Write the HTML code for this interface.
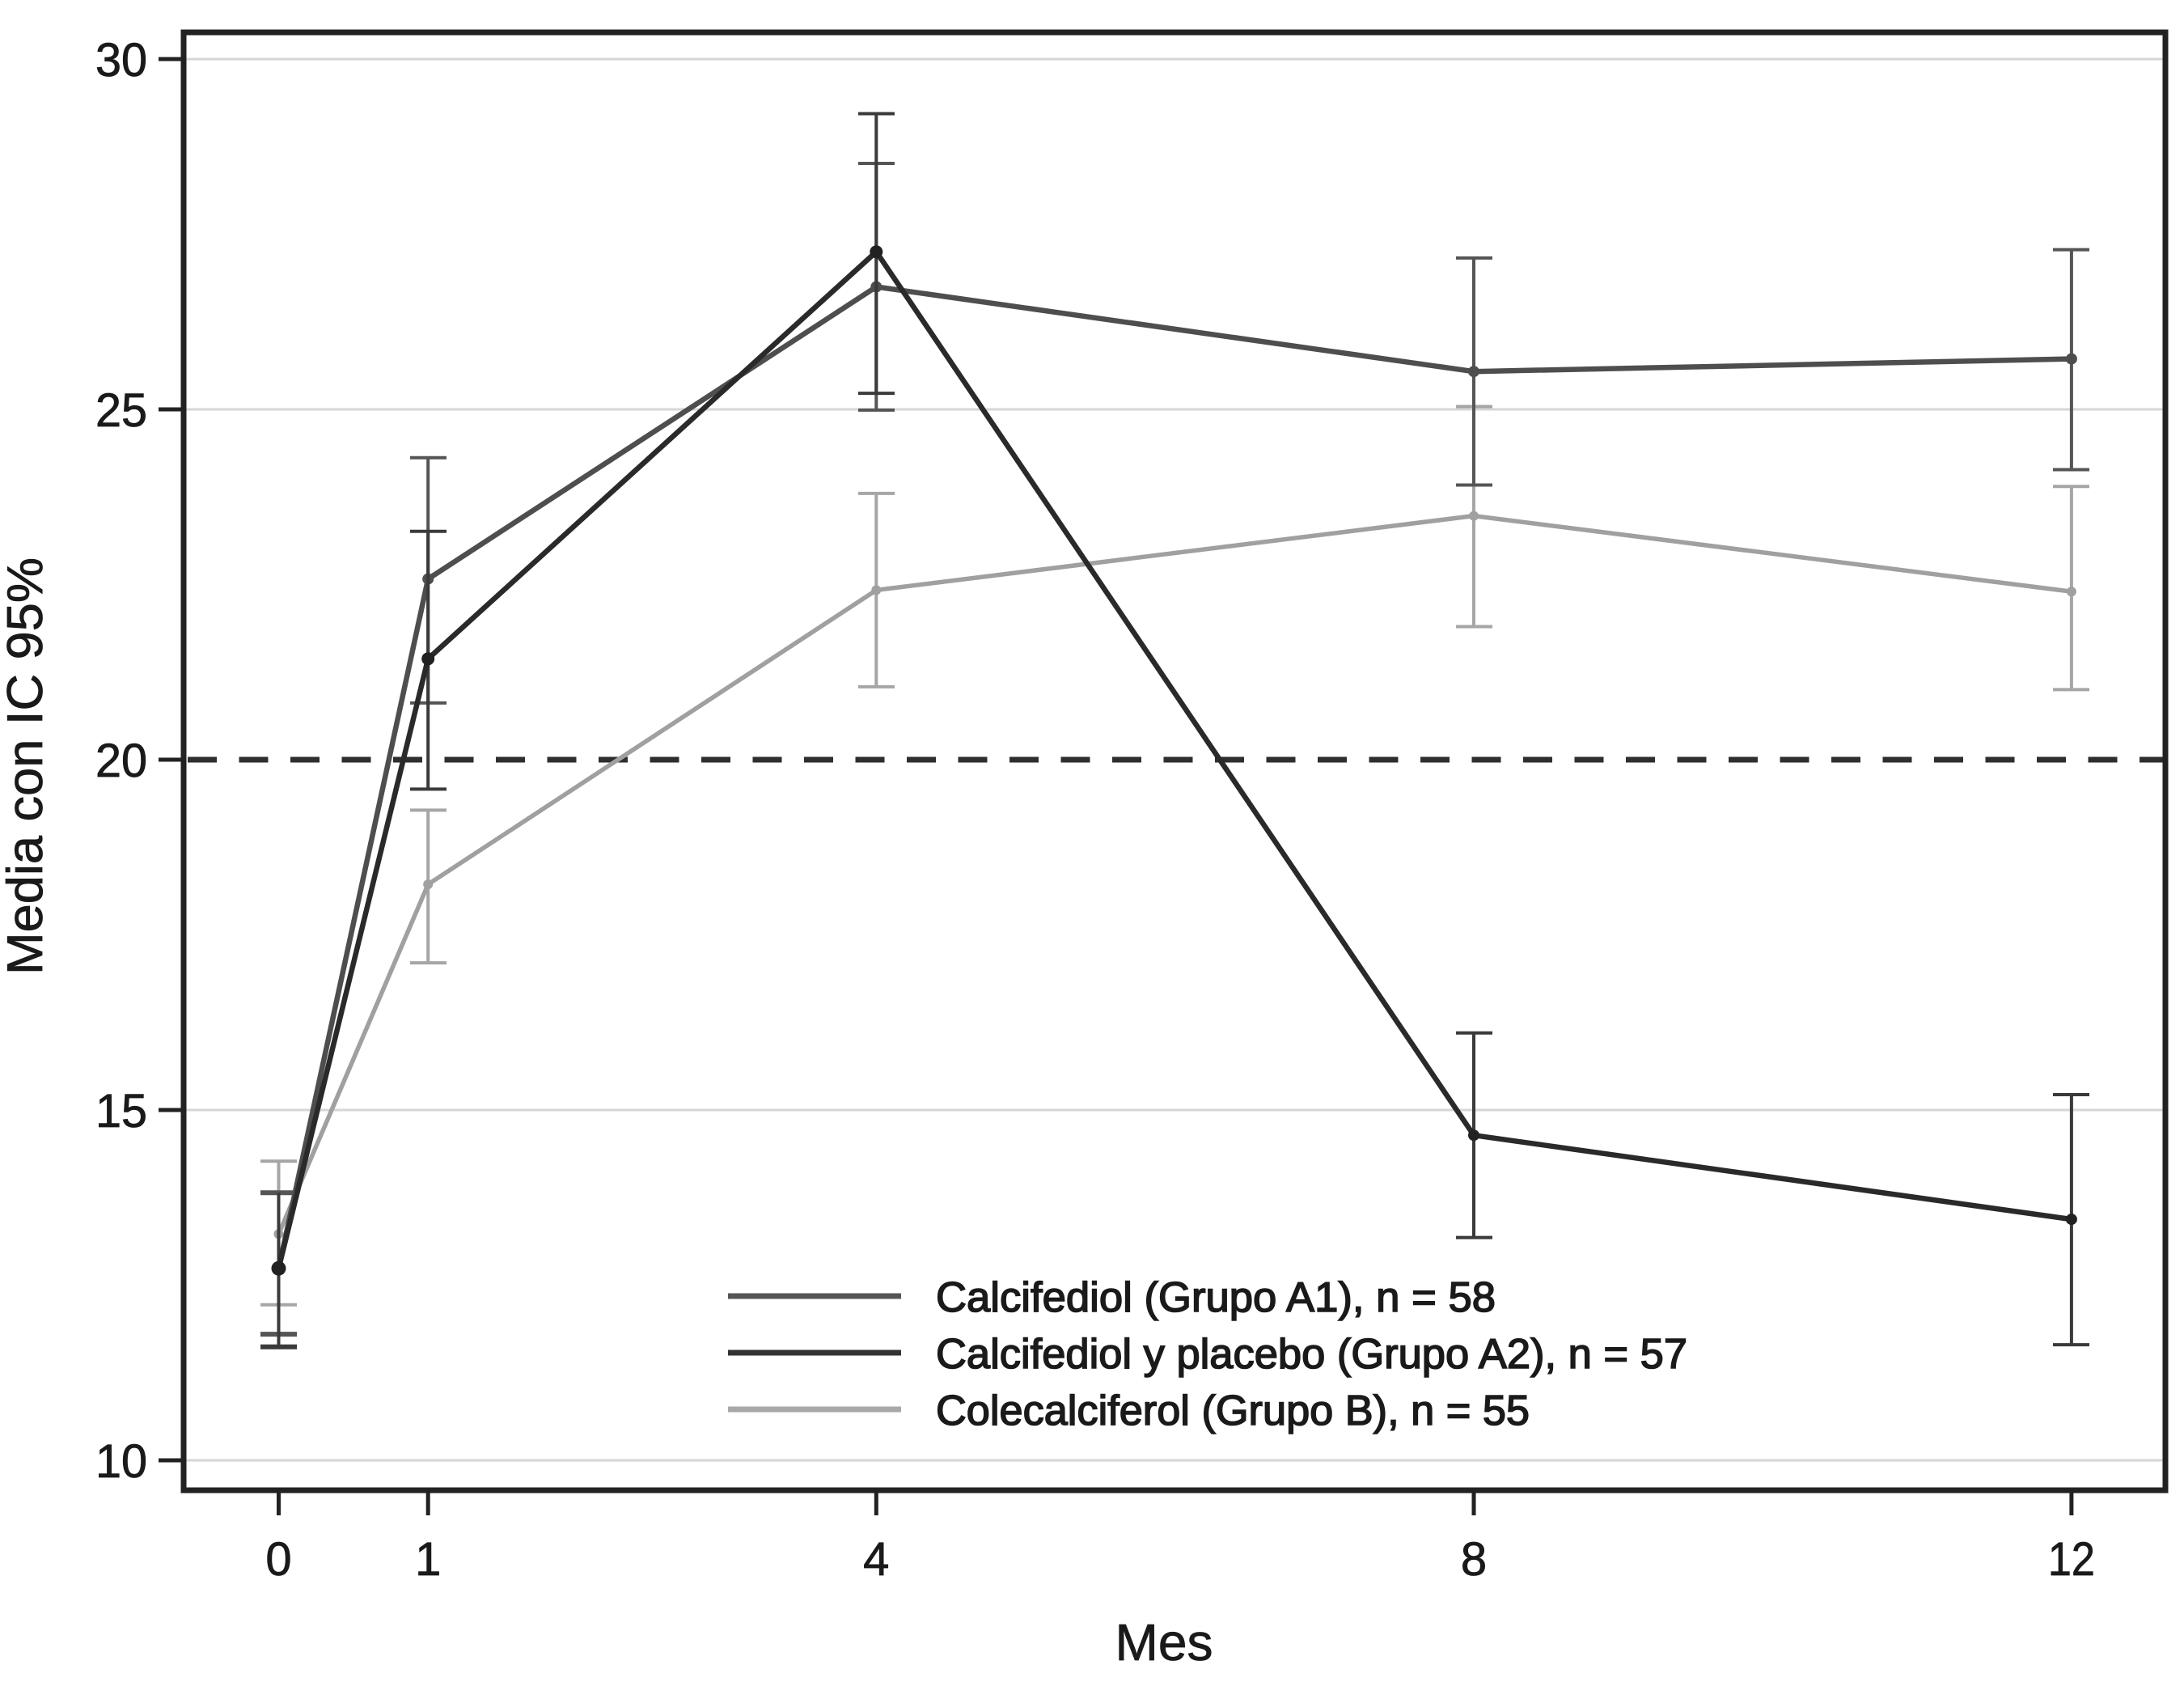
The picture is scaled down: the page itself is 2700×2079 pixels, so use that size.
<!DOCTYPE html>
<html>
<head>
<meta charset="utf-8">
<style>
  html, body { margin:0; padding:0; background:#fff; }
  body { width:2700px; height:2079px; overflow:hidden; }
  svg { display:block; }
  text { font-family: "Liberation Sans", "DejaVu Sans", sans-serif; fill:#1a1a1a; }
</style>
</head>
<body>
<svg width="2700" height="2079" viewBox="0 0 2700 2079" xmlns="http://www.w3.org/2000/svg">
  <rect x="0" y="0" width="2700" height="2079" fill="#ffffff"/>

  <!-- gridlines -->
  <g stroke="#d6d6d6" stroke-width="3">
    <line x1="227" y1="73" x2="2677" y2="73"/>
    <line x1="227" y1="506" x2="2677" y2="506"/>
    <line x1="227" y1="1372" x2="2677" y2="1372"/>
    <line x1="227" y1="1805" x2="2677" y2="1805"/>
  </g>

  <!-- reference dashed line at 20 -->
  <line x1="232" y1="939" x2="2677" y2="939" stroke="#2e2e2e" stroke-width="7" stroke-dasharray="36 27.5"/>

  <!-- Group B (light gray) -->
  <g stroke="#a6a6a6" stroke-width="4" fill="none">
    <line x1="344.5" y1="1435.2" x2="344.5" y2="1612.7"/>
    <line x1="322" y1="1435.2" x2="367" y2="1435.2"/>
    <line x1="322" y1="1612.7" x2="367" y2="1612.7"/>
    <line x1="529.2" y1="1001.4" x2="529.2" y2="1190.1"/>
    <line x1="507" y1="1001.4" x2="552" y2="1001.4"/>
    <line x1="507" y1="1190.1" x2="552" y2="1190.1"/>
    <line x1="1083.3" y1="609.9" x2="1083.3" y2="848.9"/>
    <line x1="1061" y1="609.9" x2="1106" y2="609.9"/>
    <line x1="1061" y1="848.9" x2="1106" y2="848.9"/>
    <line x1="1822" y1="502.5" x2="1822" y2="774.5"/>
    <line x1="1800" y1="502.5" x2="1845" y2="502.5"/>
    <line x1="1800" y1="774.5" x2="1845" y2="774.5"/>
    <line x1="2560.9" y1="601.3" x2="2560.9" y2="852.4"/>
    <line x1="2538" y1="601.3" x2="2583" y2="601.3"/>
    <line x1="2538" y1="852.4" x2="2583" y2="852.4"/>
  </g>
  <polyline points="344.5,1525.3 529.2,1093.1 1083.3,729.4 1822,637.6 2560.9,731.2" fill="none" stroke="#a0a0a0" stroke-width="5.5" stroke-linejoin="round"/>
  <g fill="#a0a0a0">
    <circle cx="344.5" cy="1525.3" r="6"/><circle cx="529.2" cy="1093.1" r="6"/><circle cx="1083.3" cy="729.4" r="6"/><circle cx="1822" cy="637.6" r="6"/><circle cx="2560.9" cy="731.2" r="6"/>
  </g>

  <!-- Group A1 (medium dark gray) -->
  <g stroke="#555555" stroke-width="4" fill="none">
    <line x1="344.5" y1="1474.2" x2="344.5" y2="1649.1"/>
    <line x1="322" y1="1474.2" x2="367" y2="1474.2" stroke-width="6"/>
    <line x1="322" y1="1649.1" x2="367" y2="1649.1" stroke-width="6"/>
    <line x1="529.2" y1="565.8" x2="529.2" y2="868.9"/>
    <line x1="507" y1="565.8" x2="552" y2="565.8"/>
    <line x1="507" y1="868.9" x2="552" y2="868.9"/>
    <line x1="1083.3" y1="202" x2="1083.3" y2="506.9"/>
    <line x1="1061" y1="202" x2="1106" y2="202"/>
    <line x1="1061" y1="506.9" x2="1106" y2="506.9"/>
    <line x1="1822" y1="318.9" x2="1822" y2="599.5"/>
    <line x1="1800" y1="318.9" x2="1845" y2="318.9"/>
    <line x1="1800" y1="599.5" x2="1845" y2="599.5"/>
    <line x1="2560.9" y1="308.6" x2="2560.9" y2="580.5"/>
    <line x1="2538" y1="308.6" x2="2583" y2="308.6"/>
    <line x1="2538" y1="580.5" x2="2583" y2="580.5"/>
  </g>
  <polyline points="344.5,1567.7 529.2,715.6 1083.3,354.5 1822,459.2 2560.9,443.6" fill="none" stroke="#4e4e4e" stroke-width="6.5" stroke-linejoin="round"/>
  <g fill="#4e4e4e">
    <circle cx="529.2" cy="715.6" r="7"/><circle cx="1083.3" cy="354.5" r="7"/><circle cx="1822" cy="459.2" r="7"/><circle cx="2560.9" cy="443.6" r="7"/>
  </g>

  <!-- Group A2 (darkest) -->
  <g stroke="#3a3a3a" stroke-width="4" fill="none">
    <line x1="344.5" y1="1474.2" x2="344.5" y2="1664.7"/>
    <line x1="322" y1="1664.7" x2="367" y2="1664.7" stroke-width="6"/>
    <line x1="529.2" y1="656.7" x2="529.2" y2="975.4"/>
    <line x1="507" y1="656.7" x2="552" y2="656.7"/>
    <line x1="507" y1="975.4" x2="552" y2="975.4"/>
    <line x1="1083.3" y1="140.5" x2="1083.3" y2="486.1"/>
    <line x1="1061" y1="140.5" x2="1106" y2="140.5"/>
    <line x1="1061" y1="486.1" x2="1106" y2="486.1"/>
    <line x1="1822" y1="1276.7" x2="1822" y2="1529.6"/>
    <line x1="1800" y1="1276.7" x2="1845" y2="1276.7"/>
    <line x1="1800" y1="1529.6" x2="1845" y2="1529.6"/>
    <line x1="2560.9" y1="1353" x2="2560.9" y2="1662.1"/>
    <line x1="2538" y1="1353" x2="2583" y2="1353"/>
    <line x1="2538" y1="1662.1" x2="2583" y2="1662.1"/>
  </g>
  <polyline points="344.5,1567.7 529.2,814.3 1083.3,311.2 1822,1403.2 2560.9,1507.1" fill="none" stroke="#2a2a2a" stroke-width="6.5" stroke-linejoin="round"/>
  <g fill="#222">
    <circle cx="344.5" cy="1567.7" r="9"/><circle cx="529.2" cy="814.3" r="8"/><circle cx="1083.3" cy="311.2" r="8"/><circle cx="1822" cy="1403.2" r="7"/><circle cx="2560.9" cy="1507.1" r="7"/>
  </g>

  <!-- Legend -->
  <line x1="900" y1="1602" x2="1114" y2="1602" stroke="#555555" stroke-width="7"/>
  <line x1="900" y1="1672" x2="1114" y2="1672" stroke="#333333" stroke-width="7"/>
  <line x1="900" y1="1742" x2="1114" y2="1742" stroke="#a8a8a8" stroke-width="7"/>
  <g stroke="#1a1a1a" stroke-width="1.6">
    <text x="1157" y="1621" font-size="52" textLength="692" lengthAdjust="spacingAndGlyphs">Calcifediol (Grupo A1), n = 58</text>
    <text x="1157" y="1691" font-size="52" textLength="929" lengthAdjust="spacingAndGlyphs">Calcifediol y placebo (Grupo A2), n = 57</text>
    <text x="1157" y="1761" font-size="52" textLength="734" lengthAdjust="spacingAndGlyphs">Colecalciferol (Grupo B), n = 55</text>
  </g>

  <!-- Frame -->
  <rect x="227" y="40" width="2450" height="1802" fill="none" stroke="#222" stroke-width="7"/>

  <!-- Y ticks -->
  <g stroke="#222" stroke-width="5">
    <line x1="196" y1="73" x2="227" y2="73"/>
    <line x1="196" y1="506" x2="227" y2="506"/>
    <line x1="196" y1="939" x2="227" y2="939"/>
    <line x1="196" y1="1372" x2="227" y2="1372"/>
    <line x1="196" y1="1805" x2="227" y2="1805"/>
  </g>
  <g font-size="58" text-anchor="end" stroke="#1a1a1a" stroke-width="0.8">
    <text x="182" y="94" textLength="64" lengthAdjust="spacingAndGlyphs">30</text>
    <text x="182" y="527" textLength="64" lengthAdjust="spacingAndGlyphs">25</text>
    <text x="182" y="960" textLength="64" lengthAdjust="spacingAndGlyphs">20</text>
    <text x="182" y="1393" textLength="64" lengthAdjust="spacingAndGlyphs">15</text>
    <text x="182" y="1826" textLength="64" lengthAdjust="spacingAndGlyphs">10</text>
  </g>

  <!-- X ticks -->
  <g stroke="#222" stroke-width="5">
    <line x1="344.5" y1="1842" x2="344.5" y2="1873"/>
    <line x1="529.2" y1="1842" x2="529.2" y2="1873"/>
    <line x1="1083.3" y1="1842" x2="1083.3" y2="1873"/>
    <line x1="1822" y1="1842" x2="1822" y2="1873"/>
    <line x1="2560.9" y1="1842" x2="2560.9" y2="1873"/>
  </g>
  <g font-size="58" text-anchor="middle" stroke="#1a1a1a" stroke-width="0.8">
    <text x="344.5" y="1947">0</text>
    <text x="529.2" y="1947">1</text>
    <text x="1083.3" y="1947">4</text>
    <text x="1822" y="1947">8</text>
    <text x="2560.9" y="1947" textLength="58" lengthAdjust="spacingAndGlyphs">12</text>
  </g>

  <!-- Axis titles -->
  <text x="1439" y="2052" font-size="64" text-anchor="middle" stroke="#1a1a1a" stroke-width="0.8">Mes</text>
  <text transform="translate(52,947) rotate(-90)" x="0" y="0" font-size="62" text-anchor="middle" textLength="516" lengthAdjust="spacingAndGlyphs" stroke="#1a1a1a" stroke-width="0.8">Media con IC 95%</text>
</svg>
</body>
</html>
